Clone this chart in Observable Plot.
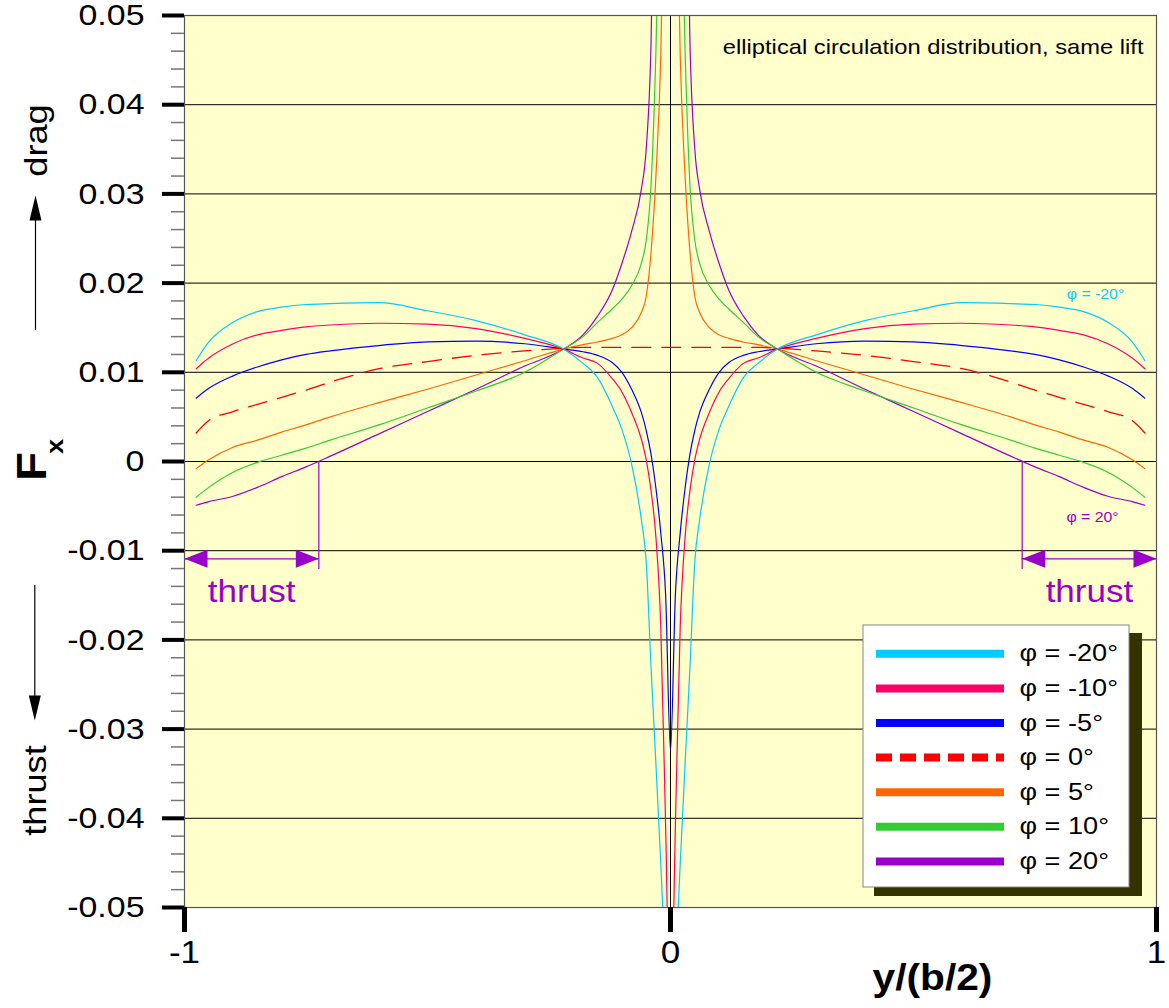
<!DOCTYPE html>
<html><head><meta charset="utf-8">
<script src="https://cdn.jsdelivr.net/npm/d3@7"></script>
<script src="https://cdn.jsdelivr.net/npm/@observablehq/plot@0.6"></script>
<style>body{margin:0;background:#fff;} svg{display:block}</style>
</head><body><div id="chart"></div>
<script>
// |y/(b/2)| stations (curves are symmetric about the root)
const span = [0, 0.01, 0.02, 0.03, 0.04, 0.05, 0.06, 0.08, 0.1, 0.12, 0.15, 0.18, 0.22, 0.3, 0.4, 0.5, 0.6, 0.7, 0.75, 0.8, 0.85, 0.9, 0.95, 0.976];
const fxM20 = [-0.070, -0.057, -0.0451, -0.0339, -0.0231, -0.0112, -0.0065, -0.0003, 0.0036, 0.0062, 0.0094, 0.0110, 0.0126, 0.0142, 0.0158, 0.0169, 0.0178, 0.0177, 0.0176, 0.0173, 0.0168, 0.0156, 0.0134, 0.0113];
const fxM10 = [-0.065, -0.041, -0.0185, -0.0085, -0.0033, 0.0002, 0.0025, 0.0055, 0.0078, 0.0093, 0.0110, 0.0116, 0.0126, 0.0138, 0.0149, 0.0154, 0.0155, 0.0153, 0.0151, 0.0147, 0.0142, 0.0132, 0.0116, 0.0104];
const fxM5  = [-0.0324, -0.0150, -0.0080, -0.0030, 0.0008, 0.0035, 0.0055, 0.0081, 0.0100, 0.0111, 0.0119, 0.0123, 0.0126, 0.0132, 0.0135, 0.0134, 0.0130, 0.0124, 0.0120, 0.0114, 0.0106, 0.0096, 0.0082, 0.0071];
const fx0   = [0.0128, 0.0128, 0.0128, 0.0128, 0.0128, 0.0128, 0.0128, 0.0128, 0.0128, 0.0128, 0.0128, 0.0128, 0.0127, 0.0124, 0.0119, 0.0112, 0.0104, 0.0089, 0.0080, 0.0072, 0.0064, 0.0056, 0.0046, 0.0032];
const fxP5  = [0.100, 0.075, 0.0455, 0.0320, 0.0235, 0.0185, 0.0167, 0.0150, 0.0142, 0.0138, 0.0134, 0.0131, 0.0126, 0.0113, 0.0097, 0.0081, 0.0066, 0.0050, 0.0041, 0.0033, 0.0024, 0.0016, 0.0002, -0.0008];
const fxP10 = [0.120, 0.100, 0.070, 0.046, 0.031, 0.0248, 0.0222, 0.0197, 0.0182, 0.0171, 0.0156, 0.0140, 0.0126, 0.0100, 0.0079, 0.0060, 0.0041, 0.0024, 0.0015, 0.0007, -0.0001, -0.0012, -0.0029, -0.0040];
const fxP20 = [0.200, 0.160, 0.120, 0.080, 0.047, 0.035, 0.0305, 0.0258, 0.0222, 0.0192, 0.0163, 0.0142, 0.0126, 0.0107, 0.0081, 0.0056, 0.0031, 0.0006, -0.0006, -0.0017, -0.0029, -0.0039, -0.0045, -0.0049];
const phiLabels = ["φ = -20°", "φ = -10°", "φ = -5°", "φ = 0°", "φ = 5°", "φ = 10°", "φ = 20°"];
const yTicks = [-0.05, -0.04, -0.03, -0.02, -0.01, 0, 0.01, 0.02, 0.03, 0.04, 0.05];
const xTicks = [-1, 0, 1];
const thrustEdge = 0.7236; // where the φ = 20° curve crosses zero

const colors = ["#00ccff", "#ff0066", "#0000ff", "#ff0000", "#ff6600", "#33cc33", "#9900cc"];
const purple = "#9900cc";

// layout (pixels)
const W = 1169, H = 1008, L = 184, R = 1156, T = 15, B = 907;
const X = px => -1 + 2 * (px - L) / (R - L);
const Y = py => 0.05 - 0.1 * (py - T) / (B - T);

function mirror(phi, vals) {
  const out = [];
  for (let i = span.length - 1; i >= 0; i--) out.push({phi, x: -span[i], F: vals[i]});
  for (let i = 1; i < span.length; i++) out.push({phi, x: span[i], F: vals[i]});
  return out;
}
const solid = [
  ...mirror(phiLabels[6], fxP20), ...mirror(phiLabels[5], fxP10), ...mirror(phiLabels[4], fxP5),
  ...mirror(phiLabels[2], fxM5), ...mirror(phiLabels[1], fxM10), ...mirror(phiLabels[0], fxM20)
];
const dashed = mirror(phiLabels[3], fx0);

const yMinor = [];
for (let i = 0; i < yTicks.length - 1; i++)
  for (let k = 1; k < 5; k++) yMinor.push(yTicks[i] + (yTicks[i + 1] - yTicks[i]) * k / 5);

const headP = {draw(ctx) { ctx.moveTo(0, 0); ctx.lineTo(-23, -9); ctx.lineTo(-23, 9); ctx.closePath(); }};
const headK = {draw(ctx) { ctx.moveTo(0, 0); ctx.lineTo(-25, -6); ctx.lineTo(-25, 6); ctx.closePath(); }};

const arrowY = Y(558.3);
const legendRows = phiLabels.map((phi, i) => ({phi, y: Y(653.3 + i * 34.6)}));

const chart = Plot.plot({
  width: W, height: H,
  marginLeft: L, marginRight: W - R, marginTop: T, marginBottom: H - B,
  x: {domain: [-1, 1]},
  y: {domain: [-0.05, 0.05]},
  color: {domain: phiLabels, range: colors},
  style: {fontFamily: "'Liberation Sans', Arial, sans-serif", background: "#fff", overflow: "visible"},
  marks: [
    Plot.frame({fill: "#ffffcc"}),
    Plot.ruleY(yTicks.slice(1, -1), {stroke: "#000", strokeWidth: 1}),
    Plot.ruleX([0], {stroke: "#000", strokeWidth: 1}),
    Plot.line(solid, {x: "x", y: "F", z: "phi", stroke: "phi", strokeWidth: 1.2, curve: "monotone-x", clip: true}),
    Plot.line(dashed, {x: "x", y: "F", stroke: "phi", strokeWidth: 1.3, strokeDasharray: "19,11", curve: "monotone-x", clip: true}),
    // thrust annotations
    Plot.ruleX([-thrustEdge, thrustEdge], {y1: 0, y2: Y(569), stroke: purple, strokeWidth: 1.2}),
    Plot.ruleY([{a: -1, b: -thrustEdge}, {a: thrustEdge, b: 1}], {y: () => arrowY, x1: "a", x2: "b", stroke: purple, strokeWidth: 1.2}),
    Plot.dot([{x: -1, r: 180}, {x: -thrustEdge, r: 0}, {x: thrustEdge, r: 180}, {x: 1, r: 0}],
      {x: "x", y: () => arrowY, rotate: "r", symbol: headP, fill: purple}),
    Plot.text([-0.862, 0.862], {x: d => d, y: () => Y(592), text: () => "thrust", fill: purple, fontSize: 31}),
    Plot.text(["elliptical circulation distribution, same lift"], {x: () => X(1143), y: () => Y(47), textAnchor: "end", fontSize: 21, fill: "#000"}),
    Plot.text([phiLabels[0]], {x: () => X(1095), y: () => Y(294), fill: colors[0], fontSize: 14}),
    Plot.text([phiLabels[6]], {x: () => X(1092), y: () => Y(517), fill: colors[6], fontSize: 14}),
    // legend
    Plot.rect([{}], {x1: () => X(874), x2: () => X(1142), y1: () => Y(633), y2: () => Y(896), fill: "#333300"}),
    Plot.rect([{}], {x1: () => X(863), x2: () => X(1129), y1: () => Y(625), y2: () => Y(887), fill: "#fff", stroke: "#888", strokeWidth: 1}),
    Plot.ruleY(legendRows.filter(d => d.phi !== phiLabels[3]), {y: "y", x1: () => X(876), x2: () => X(1004), stroke: "phi", strokeWidth: 8}),
    Plot.ruleY(legendRows.filter(d => d.phi === phiLabels[3]), {y: "y", x1: () => X(876), x2: () => X(1004), stroke: "phi", strokeWidth: 8, strokeDasharray: "16,8"}),
    Plot.text(legendRows, {x: () => X(1019), y: "y", text: "phi", textAnchor: "start", fontSize: 24, fill: "#000"}),
    Plot.frame({stroke: "#555", strokeWidth: 1.2}),
    // axes
    Plot.axisY({ticks: yMinor, tickSize: 13, tickFormat: () => "", stroke: "#777", strokeWidth: 1.5, label: null}),
    Plot.axisY({ticks: yTicks, tickSize: 22, tickPadding: 18, strokeWidth: 4, fontSize: 30, tickFormat: d => d === 0 ? "0" : d.toFixed(2), label: null}),
    Plot.axisX({ticks: xTicks, tickSize: 25, tickPadding: 8, strokeWidth: 5, fontSize: 31, tickFormat: d => String(d), label: null}),
    // axis titles
    Plot.text(["y/(b/2)"], {x: () => X(932), y: () => Y(978), fontSize: 36, fontWeight: "bold", fill: "#000"}),
    Plot.text(["F"], {x: () => X(32.5), y: () => Y(466), rotate: -90, fontSize: 42, fontWeight: "bold", fill: "#000"}),
    Plot.text(["x"], {x: () => X(55), y: () => Y(446), rotate: -90, fontSize: 24, fontWeight: "bold", fill: "#000"}),
    Plot.text(["drag"], {x: () => X(36), y: () => Y(140), rotate: -90, fontSize: 32, fill: "#000"}),
    Plot.text(["thrust"], {x: () => X(35), y: () => Y(790), rotate: -90, fontSize: 32, fill: "#000"}),
    Plot.ruleX([X(35)], {y1: Y(330), y2: Y(215), stroke: "#000", strokeWidth: 1.2}),
    Plot.ruleX([X(34.3)], {y1: Y(585), y2: Y(700), stroke: "#000", strokeWidth: 1.2}),
    Plot.dot([{x: X(35), y: Y(195), r: -90}, {x: X(34.3), y: Y(720), r: 90}], {x: "x", y: "y", rotate: "r", symbol: headK, fill: "#000"})
  ]
});
document.getElementById("chart").append(chart);
// the original typeface is slightly wider than Liberation Sans: stretch glyphs horizontally
chart.querySelectorAll("text").forEach(t => {
  const n = t.getComputedTextLength();
  if (n > 0) { t.setAttribute("textLength", (n * 1.13).toFixed(1)); t.setAttribute("lengthAdjust", "spacingAndGlyphs"); }
});
</script>
</body></html>
